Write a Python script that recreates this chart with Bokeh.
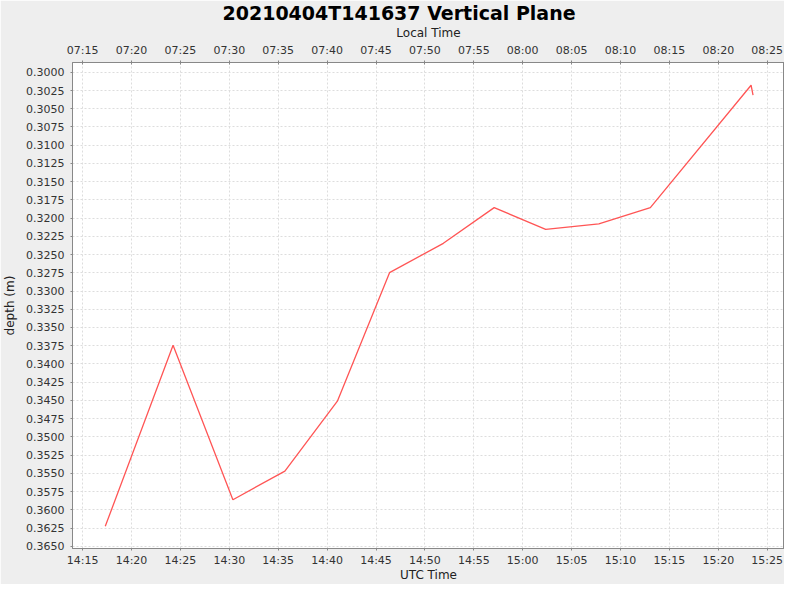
import datetime as dt
from bokeh.plotting import figure
from bokeh.models import (Range1d, DatetimeAxis, SingleIntervalTicker,
                          DatetimeTickFormatter, PrintfTickFormatter)
from bokeh.embed import file_html
from bokeh.resources import INLINE

# ---- data ----
utc_times = ["14:17:19", "14:24:15", "14:30:22", "14:35:41", "14:41:03",
             "14:46:23", "14:51:53", "14:57:05", "15:02:21", "15:07:47",
             "15:13:03", "15:23:21", "15:23:33"]
depth_m = [0.36227, 0.33743, 0.35862, 0.35470, 0.34510,
           0.32748, 0.32346, 0.31856, 0.32155, 0.32078,
           0.31856, 0.30178, 0.30312]
date_str = "2021-04-04"
local_offset_hours = -7
x_start_utc = "14:13:58"
x_end_utc = "15:26:46"
depth_top = 0.29866
depth_bottom = 0.36531
title_text = "20210404T141637 Vertical Plane"

def to_dt(t):
    return dt.datetime.strptime(date_str + " " + t, "%Y-%m-%d %H:%M:%S")

xs = [to_dt(t) for t in utc_times]
x0 = to_dt(x_start_utc)
x1 = to_dt(x_end_utc)
off = dt.timedelta(hours=local_offset_hours)

FONT = "DejaVu Sans"
BG = "#EEEEEE"
AXC = "#888888"

p = figure(width=784, height=584, output_backend="svg", toolbar_location=None,
           x_axis_type="datetime", x_range=Range1d(x0, x1),
           y_range=Range1d(depth_bottom, depth_top),
           title=title_text, x_axis_label="UTC Time", y_axis_label="depth (m)",
           min_border_left=0, min_border_right=0, min_border_top=0, min_border_bottom=0)

p.border_fill_color = BG
p.background_fill_color = "white"
p.outline_line_color = AXC
p.outline_line_width = 1

p.title.text_font = FONT
p.title.text_font_size = "19px"
p.title.text_font_style = "bold"
p.title.text_color = "black"
p.title.align = "left"
p.title.offset = 150
p.title.standoff = -2
p.title.text_line_height = 0.9

p.extra_x_ranges = {"local": Range1d(x0 + off, x1 + off)}
top_axis = DatetimeAxis(x_range_name="local", axis_label="Local Time")
p.add_layout(top_axis, "above")
bottom_axis = p.below[0]
left_axis = p.left[0]

def make_fmt():
    return DatetimeTickFormatter(minutes="%H:%M", hours="%H:%M", hourmin="%H:%M",
                                 minsec="%H:%M", seconds="%H:%M", context=None)

xtick = SingleIntervalTicker(interval=5 * 60 * 1000)
for ax in (bottom_axis, top_axis):
    ax.ticker = xtick
    ax.formatter = make_fmt()

ytick = SingleIntervalTicker(interval=0.0025)
left_axis.ticker = ytick
left_axis.formatter = PrintfTickFormatter(format="%.4f")

for ax in (bottom_axis, top_axis, left_axis):
    ax.axis_line_color = AXC
    ax.major_tick_line_color = AXC
    ax.minor_tick_line_color = None
    ax.major_tick_out = 2
    ax.major_tick_in = 2
    ax.major_label_text_font = FONT
    ax.major_label_text_font_size = "11px"
    ax.major_label_text_color = "#333333"
    ax.axis_label_text_font = FONT
    ax.axis_label_text_font_size = "12px"
    ax.axis_label_text_font_style = "normal"
    ax.axis_label_text_color = "#222222"
    ax.major_label_standoff = 2
    ax.axis_label_standoff = 1

left_axis.major_tick_in = 0
left_axis.major_label_standoff = 4
left_axis.axis_label_standoff = 6
bottom_axis.major_tick_in = 0
bottom_axis.major_label_standoff = 1
bottom_axis.axis_label_standoff = -2

p.xgrid.ticker = xtick
p.ygrid.ticker = ytick
for g in (p.xgrid, p.ygrid):
    g.grid_line_color = "#DDDDDD"
    g.grid_line_dash = "2 2"
    g.grid_line_width = 1

p.line(xs, depth_m, line_color="#FF5555", line_width=1.3)

html = file_html(p, INLINE)
html = html.replace("<body>", '<body style="background-color:#EEEEEE;">', 1)
open("out.html", "w").write(html)
